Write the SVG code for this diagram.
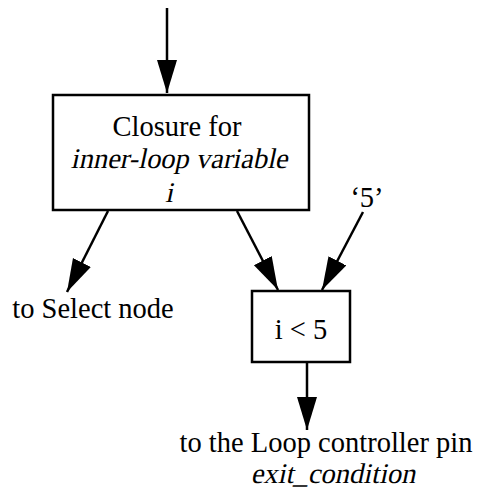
<svg xmlns="http://www.w3.org/2000/svg" width="477" height="495" viewBox="0 0 477 495">
<style>
.box{fill:#fff;stroke:#000;stroke-width:2.5}
.t{font-family:"Liberation Serif","Times New Roman",serif;font-size:28.5px;fill:#000;text-anchor:middle}
.c{stroke:#000;stroke-width:2.5;fill:none;marker-end:url(#ah)}
</style>
<defs>
<marker id="ah" markerUnits="userSpaceOnUse" markerWidth="34" markerHeight="22" refX="33" refY="10" orient="auto">
<path d="M0,0 L33,10 L0,20 z" fill="#000"/>
</marker>
</defs>
<rect width="477" height="495" fill="#fff"/>
<g id="connectors">
<line class="c" x1="167" y1="8" x2="167" y2="93"/>
<line class="c" x1="108" y1="211" x2="67" y2="292"/>
<line class="c" x1="237" y1="211" x2="278" y2="290"/>
<line class="c" x1="363" y1="212" x2="322" y2="290"/>
<line class="c" x1="307" y1="362" x2="307" y2="430"/>
</g>
<g id="closure">
<rect class="box" x="53" y="95" width="256" height="115"/>
<text class="t" x="177" y="136">Closure for</text>
<text class="t" transform="translate(179,168) skewX(-12)">inner-loop variable</text>
<text class="t" transform="translate(169,202) skewX(-12)">i</text>
</g>
<g id="compare">
<rect class="box" x="252" y="291" width="98" height="71"/>
<text class="t" x="301" y="339">i &lt; 5</text>
</g>
<g id="const5">
<text class="t" x="367" y="207">‘5’</text>
</g>
<g id="select">
<text class="t" x="93" y="318">to Select node</text>
</g>
<g id="loop">
<text class="t" x="326" y="452">to the Loop controller pin</text>
<text class="t" transform="translate(333,483) skewX(-12)">exit_condition</text>
</g>
</svg>
